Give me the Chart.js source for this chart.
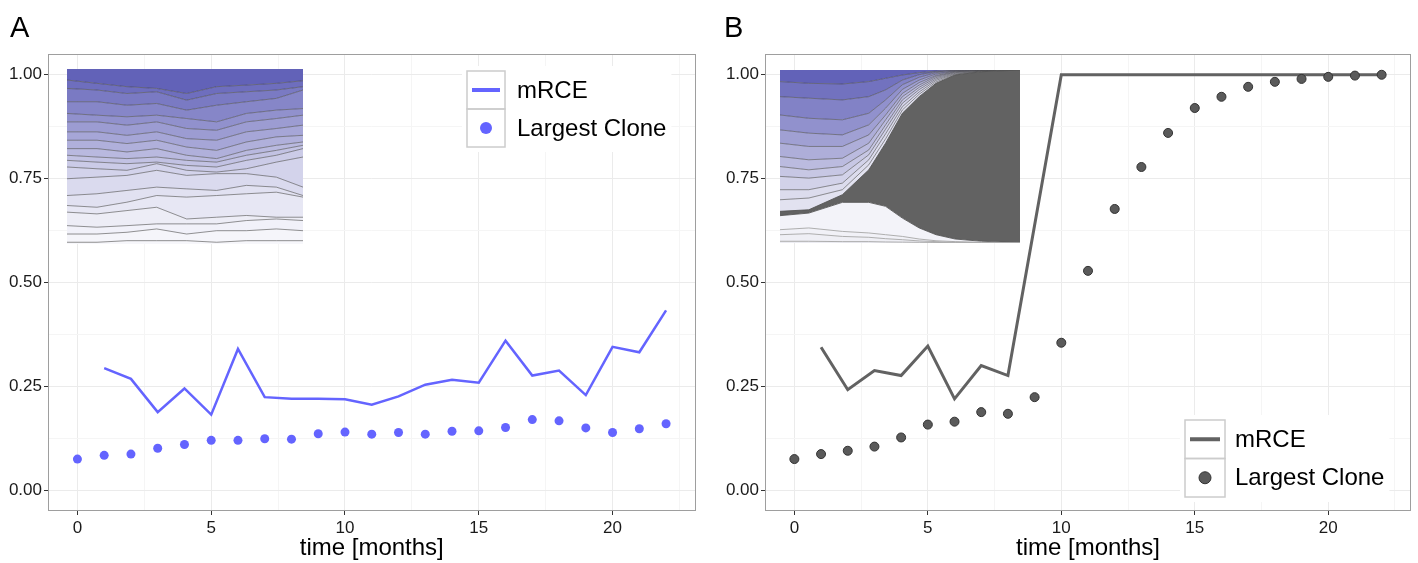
<!DOCTYPE html>
<html>
<head>
<meta charset="utf-8">
<title>mRCE and largest clone over time</title>
<script src="https://cdn.jsdelivr.net/npm/chart.js@4.4.1/dist/chart.umd.min.js"></script>
<style>
  body { margin: 0; background: #fff; font-family: 'Liberation Sans', Arial, sans-serif; }
  #wrap { position: relative; width: 1418px; height: 563px; overflow: hidden; }
  canvas, .tag { position: absolute; }
  .tag { font-size: 29px; line-height: 29px; color: #000; }
</style>
</head>
<body>
<div id="wrap">
  <canvas id="panelA" width="709" height="563" style="left:0;top:0"></canvas>
  <canvas id="panelB" width="709" height="563" style="left:709px;top:0"></canvas>
  <canvas id="insetA" width="236" height="175" style="left:67px;top:69px"></canvas>
  <canvas id="insetB" width="240" height="173" style="left:780px;top:70px"></canvas>
  <div class="tag" style="left:10px;top:13px">A</div>
  <div class="tag" style="left:724px;top:13px">B</div>
</div>
<script>
// months sampled
const months = [0, 1, 2, 3, 4, 5, 6, 7, 8, 9, 10, 11, 12, 13, 14, 15, 16, 17, 18, 19, 20, 21, 22];

// panel A
const mrceA = [null, 0.294, 0.268, 0.188, 0.245, 0.182, 0.340, 0.224, 0.220, 0.220, 0.219, 0.206,
  0.226, 0.254, 0.266, 0.259, 0.360, 0.276, 0.288, 0.229, 0.345, 0.332, 0.433];
const cloneA = [0.075, 0.084, 0.087, 0.101, 0.110, 0.120, 0.120, 0.124, 0.123, 0.136, 0.140, 0.135,
  0.139, 0.135, 0.142, 0.143, 0.151, 0.170, 0.167, 0.150, 0.139, 0.148, 0.160];

// panel B
const mrceB = [null, 0.344, 0.242, 0.288, 0.276, 0.347, 0.220, 0.300, 0.276, null, 1, 1,
  1, 1, 1, 1, 1, 1, 1, 1, 1, 1, 1];
const cloneB = [0.075, 0.087, 0.095, 0.105, 0.127, 0.158, 0.165, 0.188, 0.184, 0.224, 0.355, 0.528,
  0.677, 0.778, 0.860, 0.920, 0.947, 0.971, 0.983, 0.990, 0.995, 0.998, 1.0];

const seriesNames = ['mRCE', 'Largest Clone'];

// axes
const xTicks = [0, 5, 10, 15, 20];
const xMinor = [2.5, 7.5, 12.5, 17.5, 22.5];
const yTicks = [0, 0.25, 0.5, 0.75, 1];
const yMinor = [0.125, 0.375, 0.625, 0.875];

// inset A (clone frequencies, cumulative %, bottom to top)
const insetTimeA = [0, 12.7, 25.4, 38, 50.7, 63.4, 76, 88.7, 100];
const muA_r = [1.0, 1.0, 1.9, 1.9, 1.9, 1.0, 1.9, 1.9, 1.9];
const muA_q = [5.7, 5.7, 6.7, 8.6, 5.7, 7.6, 7.6, 8.6, 7.6];
const muA_p = [10.5, 9.6, 10.5, 11.5, 11.5, 11.5, 13.4, 14.3, 13.4];
const muA_o = [18.2, 17.2, 19.1, 21.0, 14.3, 15.3, 16.3, 15.3, 15.3];
const muA_n = [22.0, 21.0, 23.9, 27.7, 26.8, 27.7, 28.7, 29.6, 26.8];
const muA_m = [27.7, 28.7, 30.6, 32.5, 31.5, 30.6, 33.5, 32.5, 27.7];
const muA_l = [37.3, 38.2, 39.2, 42.1, 39.2, 40.2, 40.2, 38.2, 32.5];
const muA_k = [44.0, 43.0, 42.1, 45.9, 42.1, 41.1, 43.0, 46.8, 49.7];
const muA_j = [47.8, 46.8, 45.9, 46.8, 44.9, 44.0, 47.8, 50.7, 54.5];
const muA_i = [50.7, 49.7, 48.8, 49.7, 47.8, 46.8, 50.7, 53.5, 56.4];
const muA_h = [54.5, 54.5, 52.6, 54.5, 50.7, 48.8, 53.5, 56.4, 58.3];
const muA_g = [59.3, 59.3, 57.4, 59.3, 55.4, 53.5, 58.3, 61.2, 62.1];
const muA_f = [64.1, 64.1, 62.1, 64.1, 60.2, 59.3, 64.1, 66.0, 67.9];
const muA_e = [69.8, 69.8, 67.9, 69.8, 66.0, 65.0, 69.8, 71.7, 73.6];
const muA_d = [74.6, 73.6, 72.7, 73.6, 71.7, 69.8, 74.6, 76.5, 77.4];
const muA_c = [81.3, 81.3, 79.3, 80.3, 76.5, 79.3, 81.3, 83.2, 88.0];
const muA_b = [88.9, 88.0, 86.0, 87.0, 82.2, 86.0, 87.0, 88.0, 89.9];
const muA_a = [93.7, 91.8, 89.9, 88.9, 86.0, 89.9, 90.8, 91.8, 93.3];
const muA_top = [100, 100, 100, 100, 100, 100, 100, 100, 100];

// inset B
const insetTimeB = [0, 12, 26, 37, 44, 51, 58, 65, 73, 84, 100];
const muB_r = [1.0, 1.0, 0.8, 0.8, 0.6, 0.5, 0.4, 0.3, 0.2, 0.1, 0];
const muB_q = [4.8, 5.4, 3.8, 3.3, 2.5, 1.9, 1.2, 0.8, 0.4, 0.2, 0];
const muB_p = [7.7, 8.7, 6.7, 5.8, 4.8, 3.8, 2.3, 1.3, 0.8, 0.4, 0.2];
const muB_hump = [15.8, 17.3, 23.5, 23.5, 21.2, 14.4, 8.7, 4.8, 2.3, 1.0, 0.2];
const muB_gray = [18.3, 19.2, 27.9, 42.3, 57.7, 75.0, 84.6, 92.3, 97.1, 99.0, 100];
const muB_1 = [25.0, 26.0, 30.8, 45.2, 60.2, 76.9, 86.0, 93.1, 97.3, 99.2, 100];
const muB_2 = [30.8, 30.8, 34.6, 48.1, 63.1, 78.8, 87.3, 94.0, 97.7, 99.2, 100];
const muB_3 = [38.5, 37.5, 39.4, 51.0, 65.8, 80.8, 88.7, 94.8, 98.1, 99.4, 100];
const muB_4 = [44.2, 42.3, 44.2, 53.8, 68.3, 82.7, 90.0, 95.6, 98.5, 99.4, 100];
const muB_5 = [50.0, 48.1, 49.0, 57.7, 71.2, 84.6, 91.3, 96.3, 98.7, 99.6, 100];
const muB_6 = [57.7, 55.8, 55.8, 62.5, 74.0, 86.5, 92.7, 96.9, 99.0, 99.6, 100];
const muB_7 = [65.4, 63.5, 62.5, 68.3, 77.9, 88.8, 94.2, 97.7, 99.2, 99.8, 100];
const muB_8 = [74.0, 72.1, 71.2, 75.0, 82.7, 91.5, 95.8, 98.5, 99.4, 99.8, 100];
const muB_9 = [84.6, 83.7, 82.7, 84.6, 88.5, 94.2, 97.3, 99.0, 99.6, 100, 100];
const muB_10 = [93.3, 92.3, 91.9, 93.3, 95.2, 97.1, 98.5, 99.4, 99.8, 100, 100];
const muB_top = [100, 100, 100, 100, 100, 100, 100, 100, 100, 100, 100];

const FONT = "'Liberation Sans', Arial, sans-serif";

function toPoints(xs, ys) {
  return xs.map((x, i) => ({x: x, y: ys[i]})).filter(p => p.y !== null);
}

function mix(c0, c1, t) {
  return 'rgb(' + c0.map((v, i) => Math.round(v + (c1[i] - v) * t)).join(',') + ')';
}

const panelDecor = {
  id: 'panelDecor',
  afterDatasetsDraw(chart, args, opts) {
    const ctx = chart.ctx;
    const a = chart.chartArea;
    ctx.save();
    ctx.strokeStyle = '#9e9e9e';
    ctx.lineWidth = 1;
    ctx.strokeRect(Math.round(a.left) + 0.5, Math.round(a.top) + 0.5,
      Math.round(a.right - a.left) - 1, Math.round(a.bottom - a.top) - 1);

    // legend
    const ds = chart.data.datasets;
    ctx.font = '24px ' + FONT;
    const tw = Math.max(...ds.map(d => ctx.measureText(d.label).width));
    ctx.fillStyle = '#fff';
    ctx.fillRect(opts.x - 5, opts.y - 5, opts.w + opts.gap + tw + 10, opts.h * 2 + 10);
    ctx.strokeStyle = '#cccccc';
    ctx.lineWidth = 1.5;
    for (let i = 0; i < 2; i++) {
      ctx.strokeRect(opts.x, opts.y + i * opts.h, opts.w, opts.h);
    }
    const cx = opts.x + opts.w / 2;
    const cy0 = opts.y + opts.h / 2;
    const cy1 = opts.y + opts.h * 1.5;
    ctx.strokeStyle = ds[0].borderColor;
    ctx.lineWidth = 4;
    ctx.beginPath();
    ctx.moveTo(opts.x + 5, cy0);
    ctx.lineTo(opts.x + opts.w - 5, cy0);
    ctx.stroke();
    ctx.fillStyle = ds[1].pointBackgroundColor;
    ctx.beginPath();
    ctx.arc(cx, cy1, 6, 0, Math.PI * 2);
    ctx.fill();
    if (ds[1].pointBorderWidth) {
      ctx.strokeStyle = ds[1].pointBorderColor;
      ctx.lineWidth = 1;
      ctx.stroke();
    }
    ctx.fillStyle = '#000';
    ctx.textBaseline = 'middle';
    ctx.textAlign = 'left';
    ctx.fillText(ds[0].label, opts.x + opts.w + opts.gap, cy0 + 1);
    ctx.fillText(ds[1].label, opts.x + opts.w + opts.gap, cy1 + 1);
    ctx.restore();
  }
};

function makePanel(id, mrce, clone, colors, yWidth, padRight, legendPos) {
  const ctx = document.getElementById(id).getContext('2d');
  return new Chart(ctx, {
    type: 'scatter',
    data: {
      datasets: [{
        label: seriesNames[0],
        data: toPoints(months, mrce),
        showLine: true,
        borderColor: colors.line,
        borderWidth: colors.lineWidth,
        pointRadius: 0,
        fill: false,
        tension: 0,
        order: 1
      }, {
        label: seriesNames[1],
        data: toPoints(months, clone),
        showLine: false,
        pointRadius: 4.5,
        pointBackgroundColor: colors.point,
        pointBorderColor: colors.pointEdge,
        pointBorderWidth: colors.pointEdgeWidth,
        order: 0
      }]
    },
    options: {
      responsive: false,
      animation: false,
      layout: { padding: { top: 54, right: padRight, left: 0, bottom: 0 } },
      plugins: {
        legend: { display: false },
        tooltip: { enabled: false },
        panelDecor: legendPos
      },
      scales: {
        x: {
          type: 'linear',
          min: -1.1,
          max: 23.1,
          afterBuildTicks: s => { s.ticks = xTicks.concat(xMinor).sort((a, b) => a - b).map(v => ({value: v})); },
          afterFit: s => { s.height = 52; },
          ticks: {
            autoSkip: false,
            maxRotation: 0,
            padding: 3,
            color: '#1a1a1a',
            font: { family: FONT, size: 17 },
            callback: v => xTicks.includes(v) ? String(v) : ''
          },
          grid: {
            color: c => xTicks.includes(c.tick.value) ? '#ebebeb' : '#f5f5f5',
            tickColor: c => xTicks.includes(c.tick.value) ? '#333' : 'rgba(0,0,0,0)',
            tickLength: 4,
            drawTicks: true
          },
          border: { display: false },
          title: {
            display: true,
            text: 'time [months]',
            color: '#000',
            font: { family: FONT, size: 24 },
            padding: { top: 0, bottom: 0 }
          }
        },
        y: {
          min: -0.05,
          max: 1.05,
          afterBuildTicks: s => { s.ticks = yTicks.concat(yMinor).sort((a, b) => a - b).map(v => ({value: v})); },
          afterFit: s => { s.width = yWidth; },
          ticks: {
            autoSkip: false,
            padding: 2,
            color: '#1a1a1a',
            font: { family: FONT, size: 17 },
            callback: v => yTicks.includes(v) ? v.toFixed(2) : ''
          },
          grid: {
            color: c => yTicks.includes(c.tick.value) ? '#ebebeb' : '#f5f5f5',
            tickColor: c => yTicks.includes(c.tick.value) ? '#333' : 'rgba(0,0,0,0)',
            tickLength: 4,
            drawTicks: true
          },
          border: { display: false }
        }
      }
    },
    plugins: [panelDecor]
  });
}

makePanel('panelA', mrceA, cloneA,
  { line: '#6464ff', lineWidth: 2.5, point: '#6464ff', pointEdge: '#6464ff', pointEdgeWidth: 0 },
  48, 13.5, { x: 467, y: 71, w: 38, h: 38, gap: 12 });

makePanel('panelB', mrceB, cloneB,
  { line: '#626262', lineWidth: 3, point: '#5a5a5a', pointEdge: '#333', pointEdgeWidth: 1 },
  56, 7, { x: 476, y: 420, w: 40, h: 38.5, gap: 10 });

function makeInset(id, times, bounds, fills, lines) {
  const ctx = document.getElementById(id).getContext('2d');
  return new Chart(ctx, {
    type: 'line',
    data: {
      datasets: bounds.map((b, i) => ({
        data: toPoints(times, b),
        fill: i === 0 ? 'origin' : '-1',
        backgroundColor: fills[i],
        borderColor: lines[i],
        borderWidth: 0.9,
        pointRadius: 0,
        tension: 0
      }))
    },
    options: {
      responsive: false,
      animation: false,
      layout: { padding: 0 },
      plugins: { legend: { display: false }, tooltip: { enabled: false }, filler: { propagate: false } },
      scales: {
        x: { type: 'linear', display: false, min: 0, max: 100 },
        y: { display: false, min: 0, max: 100 }
      }
    }
  });
}

const boundsA = [muA_r, muA_q, muA_p, muA_o, muA_n, muA_m, muA_l, muA_k, muA_j, muA_i,
  muA_h, muA_g, muA_f, muA_e, muA_d, muA_c, muA_b, muA_a, muA_top];
const fillsA = boundsA.map((b, i) => mix([247, 247, 251], [98, 98, 184], Math.pow(i / (boundsA.length - 1), 1.5)));
const linesA = boundsA.map((b, i) => i === boundsA.length - 1 ? 'rgba(0,0,0,0)' : 'rgba(70,70,70,0.65)');
makeInset('insetA', insetTimeA, boundsA, fillsA, linesA);

const boundsB = [muB_r, muB_q, muB_p, muB_hump, muB_gray, muB_1, muB_2, muB_3, muB_4, muB_5,
  muB_6, muB_7, muB_8, muB_9, muB_10, muB_top];
const fillsB = ['#ececf2', '#efeff5', '#f1f1f7', '#f3f3f9', '#626262'];
for (let j = 0; j <= 10; j++) fillsB.push(mix([226, 226, 240], [98, 98, 184], Math.pow(j / 10, 1.3)));
const linesB = ['#a6a6a6', '#a6a6a6', '#a6a6a6', '#555', '#555'];
for (let j = 0; j <= 10; j++) linesB.push(j === 10 ? 'rgba(0,0,0,0)' : 'rgba(70,70,70,0.65)');
makeInset('insetB', insetTimeB, boundsB, fillsB, linesB);
</script>
</body>
</html>
